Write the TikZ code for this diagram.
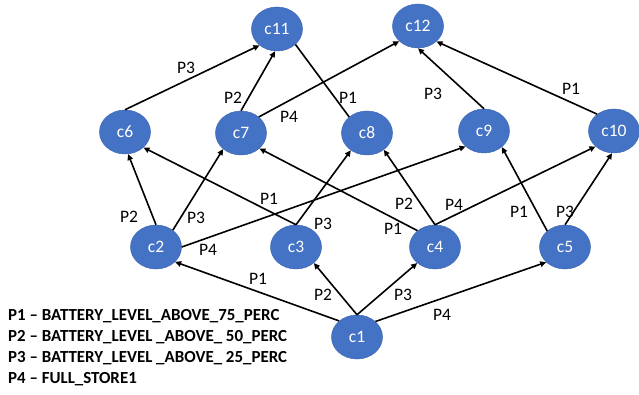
\documentclass[tikz,border=0pt]{standalone}
\usepackage{fontspec}
\setmainfont{Carlito}
\usetikzlibrary{arrows.meta,shapes.geometric}
\definecolor{nodeblue}{HTML}{4472C4}
\definecolor{nodeedge}{HTML}{3F68B5}
\tikzset{
  cnode/.style={ellipse, fill=nodeblue, draw=nodeedge, line width=0.5pt, minimum width=51pt, minimum height=44pt, inner sep=0pt, text=white, font=\fontsize{17.5}{20}\selectfont},
  edge/.style={line width=1.6pt, -{Triangle[length=6pt,width=5.5pt]}},
  plain/.style={line width=1.6pt},
  lbl/.style={font=\fontsize{17.5}{20}\selectfont, inner sep=0pt},
  legend/.style={font=\fontsize{16.9}{20}\selectfont\bfseries, anchor=base west, inner sep=0pt}
}
\begin{document}
\begin{tikzpicture}[x=1pt,y=-1pt]
\useasboundingbox (0,0) rectangle (639,395);
% nodes
\node[cnode] (c11) at (277,29) {c11};
\node[cnode] (c12) at (418,26) {c12};
\node[cnode] (c6) at (125,132) {c6};
\node[cnode] (c7) at (241,133) {c7};
\node[cnode] (c8) at (367,133) {c8};
\node[cnode] (c9) at (484,131) {c9};
\node[cnode] (c10) at (614,131) {c10};
\node[cnode] (c2) at (156,247) {c2};
\node[cnode] (c3) at (296,247) {c3};
\node[cnode] (c4) at (435,247) {c4};
\node[cnode] (c5) at (565,247) {c5};
\node[cnode] (c1) at (357,337) {c1};
% edges c1
\draw[edge] (c1.138) -- (c2.-38);
\draw[edge] (c1.north) -- (c3.-42);
\draw[edge] (c1.north) -- (c4.-138);
\draw[edge] (c1.40) -- (c5.-141);
% edges row 2 -> row 3
\draw[edge] (c2.north) -- (c6.-82);
\draw[edge] (c2.45) -- (c7.-138);
\draw[edge] (c2.east) -- (c9.-140);
\draw[edge] (c3.north) -- (c6.-40);
\draw[edge] (c3.north) -- (c8.-133);
\draw[edge] (c4.137) -- (c7.-40);
\draw[edge] (c4.north) -- (c8.-45);
\draw[edge] (c4.north) -- (c10.-140);
\draw[edge] (c5.138) -- (c9.-42);
\draw[edge] (c5.north) -- (c10.-95);
% edges row 3 -> row 4
\draw[edge] (c6.north) -- (c11.-137);
\draw[edge] (c7.north) -- (c11.-95);
\draw[edge] (c7.42) -- (c12.-141);
\draw[plain] (c8.138) -- (c11.-40);
\draw[edge] (c9.north) -- (c12.south);
\draw[edge] (c10.135) -- (c12.-40);
% edge labels
\node[lbl] (l1) at (186,68) {P3};
\node[lbl] (l2) at (233,98) {P2};
\node[lbl] (l3) at (348,98) {P1};
\node[lbl] (l4) at (289,117) {P4};
\node[lbl] (l5) at (433,94) {P3};
\node[lbl] (l6) at (571,89) {P1};
\node[lbl] (l7) at (129,217) {P2};
\node[lbl] (l8) at (196,218) {P3};
\node[lbl] (l9) at (269,199) {P1};
\node[lbl] (l10) at (208,250) {P4};
\node[lbl] (l11) at (323,224) {P3};
\node[lbl] (l12) at (404,204) {P2};
\node[lbl] (l13) at (454,205) {P4};
\node[lbl] (l14) at (393,229) {P1};
\node[lbl] (l15) at (519,212) {P1};
\node[lbl] (l16) at (565,212) {P3};
\node[lbl] (l17) at (258,279) {P1};
\node[lbl] (l18) at (323,295) {P2};
\node[lbl] (l19) at (403,295) {P3};
\node[lbl] (l20) at (442,315) {P4};
% legend
\node[legend] (g1) at (8,320) {P1 – BATTERY\_LEVEL\_ABOVE\_75\_PERC};
\node[legend] (g2) at (8,341) {P2 – BATTERY\_LEVEL \_ABOVE\_ 50\_PERC};
\node[legend] (g3) at (8,362) {P3 – BATTERY\_LEVEL \_ABOVE\_ 25\_PERC};
\node[legend] (g4) at (8,383) {P4 – FULL\_STORE1};
\end{tikzpicture}
\end{document}
